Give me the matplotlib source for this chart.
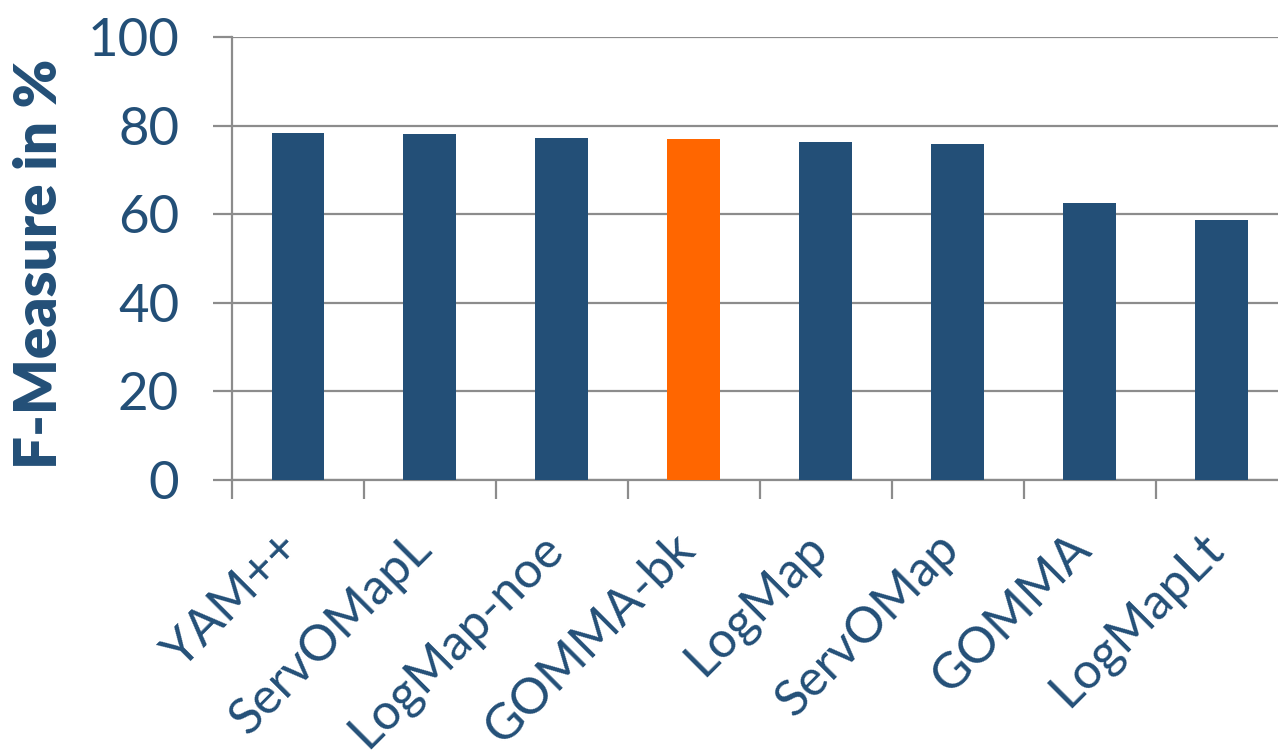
import matplotlib
matplotlib.use("Agg")
import matplotlib.pyplot as plt
from matplotlib.transforms import ScaledTranslation

systems = ["YAM++", "ServOMapL", "LogMap-noe", "GOMMA-bk",
           "LogMap", "ServOMap", "GOMMA", "LogMapLt"]
fmeasure = [78.3, 78.1, 77.1, 76.9, 76.2, 75.9, 62.6, 58.7]
highlight = "GOMMA-bk"

NAVY = "#234f77"
ORANGE = "#ff6600"
GREY = "#8c8c8c"

plt.rcParams["font.family"] = ["Lato", "DejaVu Sans"]

fig = plt.figure(figsize=(12.78, 7.55), dpi=100)
ax = fig.add_axes([0.1815, 0.3642, 0.826, 0.5868])

colors = [ORANGE if s == highlight else NAVY for s in systems]
x = list(range(len(systems)))
ax.bar(x, fmeasure, width=0.4, color=colors, zorder=3)

ax.set_xlim(-0.5, len(systems) - 0.5)
ax.set_ylim(0, 100)
ax.set_yticks(range(0, 101, 20))
ax.yaxis.grid(True, color=GREY, linewidth=1.6, zorder=0)
ax.set_axisbelow(True)

# ticks at category boundaries, labels at centres
ax.set_xticks([i - 0.5 for i in range(len(systems) + 1)])
ax.set_xticklabels([])
ax.set_xticks(x, minor=True)
ax.set_xticklabels(systems, minor=True, rotation=45, ha="right",
                   rotation_mode="anchor", fontsize=36, color=NAVY)
ax.tick_params(axis="x", which="minor", length=0, pad=32)
ax.tick_params(axis="x", which="major", length=14, width=1.6, color=GREY)
ax.tick_params(axis="y", length=14, width=1.6, color=GREY, pad=24,
               labelsize=38, labelcolor=NAVY)

shift = ScaledTranslation(-0.22, 0, fig.dpi_scale_trans)
for lbl in ax.get_xticklabels(minor=True):
    lbl.set_transform(lbl.get_transform() + shift)

for side in ["top", "right"]:
    ax.spines[side].set_visible(False)
ax.spines["left"].set_color(GREY)
ax.spines["left"].set_linewidth(1.6)
ax.spines["bottom"].set_color(GREY)
ax.spines["bottom"].set_linewidth(1.6)

fig.text(0.031, 0.65, "F-Measure in %", rotation=90, ha="center",
         va="center", fontsize=42, fontweight="heavy", color=NAVY)

fig.savefig("out.png", dpi=100, facecolor="white")
